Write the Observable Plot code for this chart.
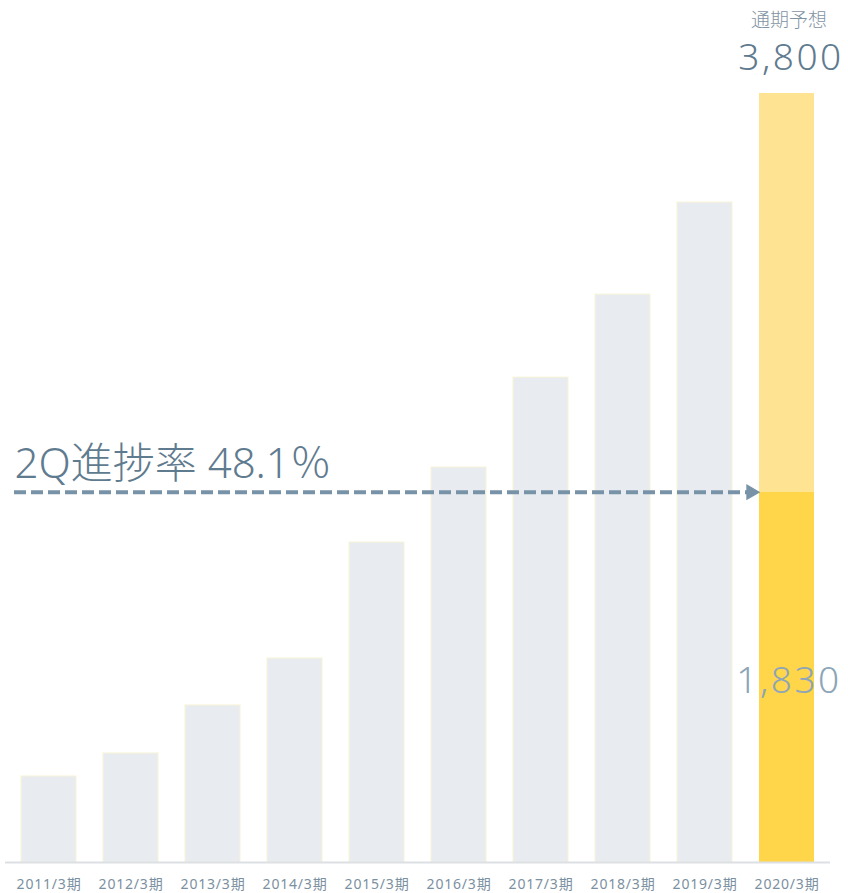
<!DOCTYPE html>
<html>
<head>
<meta charset="utf-8">
<script src="https://cdn.jsdelivr.net/npm/d3@7"></script>
<script src="https://cdn.jsdelivr.net/npm/@observablehq/plot@0.6"></script>
<style>
  html, body { margin: 0; padding: 0; background: #fff; }
  svg { display: block; }
  text[aria-label="big-number"] { letter-spacing: 2.5px; }
  g[aria-label="x-axis tick label"] text { letter-spacing: 0.8px; }
</style>
</head>
<body>
<div id="chart"></div>
<script>
const periods = ["2011/3期", "2012/3期", "2013/3期", "2014/3期", "2015/3期", "2016/3期", "2017/3期", "2018/3期", "2019/3期", "2020/3期"];
const results = [425, 539, 776, 1008, 1581, 1952, 2396, 2806, 3261, null];
const forecastPeriod = "2020/3期";
const forecast = 3800;
const actual2Q = 1830;
const progressLabel = "2Q進捗率 48.1％";
const forecastTitle = "通期予想";

const past = periods.map((p, i) => ({period: p, value: results[i]})).filter(d => d.value != null);
const fmt = d3.format(",");
const font = "'Noto Sans', 'Noto Sans CJK JP', sans-serif";

const chart = Plot.plot({
  width: 848,
  height: 893,
  marginLeft: 5,
  marginRight: 18,
  marginTop: 93,
  marginBottom: 31,
  style: {fontFamily: font, background: "#fff"},
  x: {domain: periods, paddingInner: 1/3, paddingOuter: 1/6, label: null},
  y: {domain: [0, forecast], axis: null},
  marks: [
    Plot.barY(past, {x: "period", y: "value", fill: "#e8ecf1", stroke: "#f7f3d6", strokeWidth: 1}),
    Plot.barY([{period: forecastPeriod, y1: actual2Q, y2: forecast}], {x: "period", y1: "y1", y2: "y2", fill: "#fee392"}),
    Plot.barY([{period: forecastPeriod, y1: 0, y2: actual2Q}], {x: "period", y1: "y1", y2: "y2", fill: "#ffd54a"}),
    Plot.ruleY([0], {stroke: "#dcdfe3", strokeWidth: 2}),
    Plot.axisX({tickSize: 0, tickPadding: 17, fontSize: 14, fill: "#7b90a1", fontFamily: font}),
    Plot.ruleY([actual2Q], {stroke: "#7893a7", strokeWidth: 4, strokeDasharray: "12,5", insetLeft: 9, insetRight: 82}),
    Plot.dot([{period: forecastPeriod, y: actual2Q}], {x: "period", y: "y", symbol: "triangle", rotate: 90, r: 6, fill: "#7893a7", dx: -36}),
    Plot.text([progressLabel], {frameAnchor: "left", y: () => actual2Q, text: d => d, dx: 9, dy: -28, fontSize: 42, fill: "#5f7b8f", textAnchor: "start", fontWeight: 300}),
    Plot.text([forecastTitle], {x: () => forecastPeriod, y: () => forecast, text: d => d, dy: -73, dx: 2, fontSize: 19, fill: "#7f93a3", fontWeight: 300}),
    Plot.text([forecast], {ariaLabel: () => "big-number", x: () => forecastPeriod, y: d => d, text: d => fmt(d), dy: -35, dx: 4, fontSize: 37, fill: "#5f7b8f", fontWeight: 300}),
    Plot.text([actual2Q], {ariaLabel: () => "big-number", x: () => forecastPeriod, y: d => d, text: d => fmt(d), dy: 189, dx: 2, fontSize: 37, fill: "#8ca5b8", fontWeight: 300})
  ]
});
document.getElementById("chart").appendChild(chart);
</script>
</body>
</html>
